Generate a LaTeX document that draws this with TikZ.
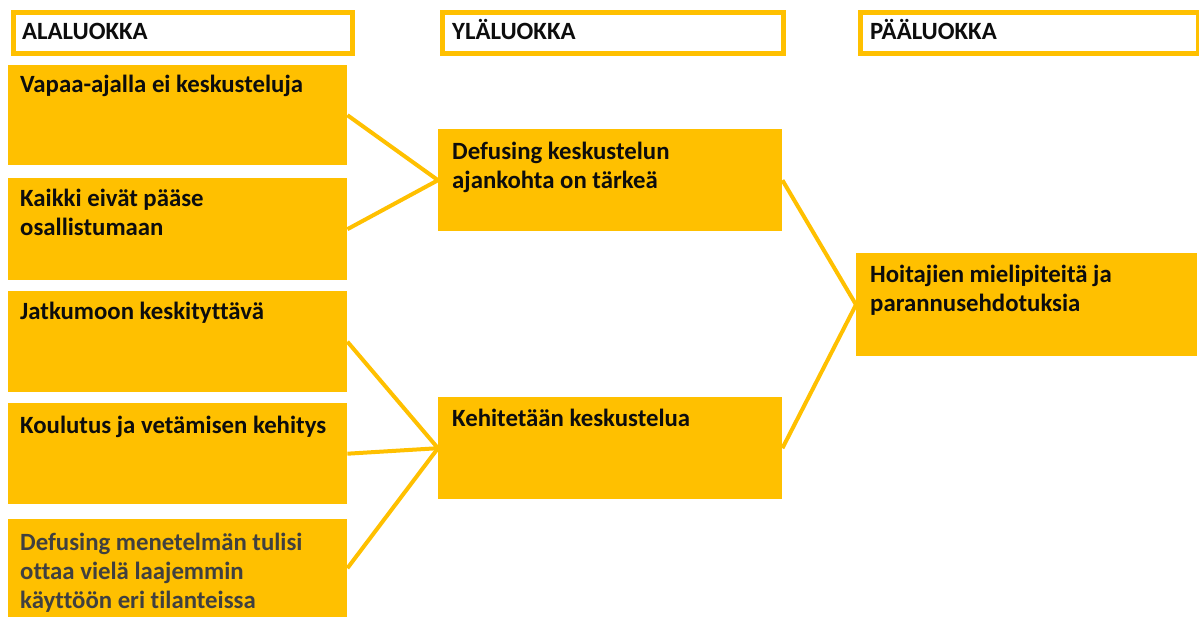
\documentclass[tikz,border=0pt]{standalone}
\usepackage{fontspec}
\setmainfont{Carlito}[Ligatures={NoCommon,NoContextual}]
\definecolor{gold}{HTML}{FFC000}
\definecolor{txt}{HTML}{0D0D0D}
\definecolor{txtgray}{HTML}{404040}
\begin{document}
\begin{tikzpicture}[x=1pt,y=-1pt,
  hdr/.style={draw=gold, line width=5pt, fill=white, anchor=north west, inner sep=0pt, minimum height=41pt},
  cat/.style={fill=gold, anchor=north west, inner sep=0pt},
  lbl/.style={anchor=base west, inner sep=0pt, align=left, font=\fontsize{24.8}{29}\selectfont\bfseries, text=txt},
  link/.style={draw=gold, line width=4pt}]
\useasboundingbox (0,0) rectangle (1199,617);
% headers
\node[hdr, minimum width=339pt] (h1) at (10.5,10.5) {};
\node[hdr, minimum width=341pt] (h2) at (439.5,10.5) {};
\node[hdr, minimum width=338pt] (h3) at (857.5,10.5) {};
\node[lbl] (th1) at (22,40) {ALALUOKKA};
\node[lbl] (th2) at (452,40) {YLÄLUOKKA};
\node[lbl] (th3) at (870,40) {PÄÄLUOKKA};
% left column
\node[cat, minimum width=339pt, minimum height=100pt] (a1) at (8,65) {};
\node[cat, minimum width=339pt, minimum height=102pt] (a2) at (8,178) {};
\node[cat, minimum width=339pt, minimum height=101pt] (a3) at (8,291) {};
\node[cat, minimum width=339pt, minimum height=101pt] (a4) at (8,403) {};
\node[cat, minimum width=339pt, minimum height=98pt] (a5) at (8,519) {};
% middle column
\node[cat, minimum width=344pt, minimum height=102pt] (m1) at (438,129) {};
\node[cat, minimum width=344pt, minimum height=102pt] (m2) at (438,397) {};
% right column
\node[cat, minimum width=341pt, minimum height=103pt] (r1) at (856,253) {};
% connectors
\draw[link] (a1.east) -- (m1.west);
\draw[link] (a2.east) -- (m1.west);
\draw[link] (a3.east) -- (m2.west);
\draw[link] (a4.east) -- (m2.west);
\draw[link] (a5.east) -- (m2.west);
\draw[link] (m1.east) -- (r1.west);
\draw[link] (m2.east) -- (r1.west);
% texts (base anchor = baseline of last line)
\node[lbl] (ta1) at (20,93) {Vapaa-ajalla ei keskusteluja};
\node[lbl] (ta2) at (20,236) {Kaikki eivät pääse\\osallistumaan};
\node[lbl] (ta3) at (20,320) {Jatkumoon keskityttävä};
\node[lbl] (ta4) at (20,433) {Koulutus ja vetämisen kehitys};
\node[lbl, text=txtgray] (ta5) at (20,608) {Defusing menetelmän tulisi\\ottaa vielä laajemmin\\käyttöön eri tilanteissa};
\node[lbl] (tm1) at (452,189) {Defusing keskustelun\\ajankohta on tärkeä};
\node[lbl] (tm2) at (452,426) {Kehitetään keskustelua};
\node[lbl] (tr1) at (870,312) {Hoitajien mielipiteitä ja\\parannusehdotuksia};
\end{tikzpicture}
\end{document}
